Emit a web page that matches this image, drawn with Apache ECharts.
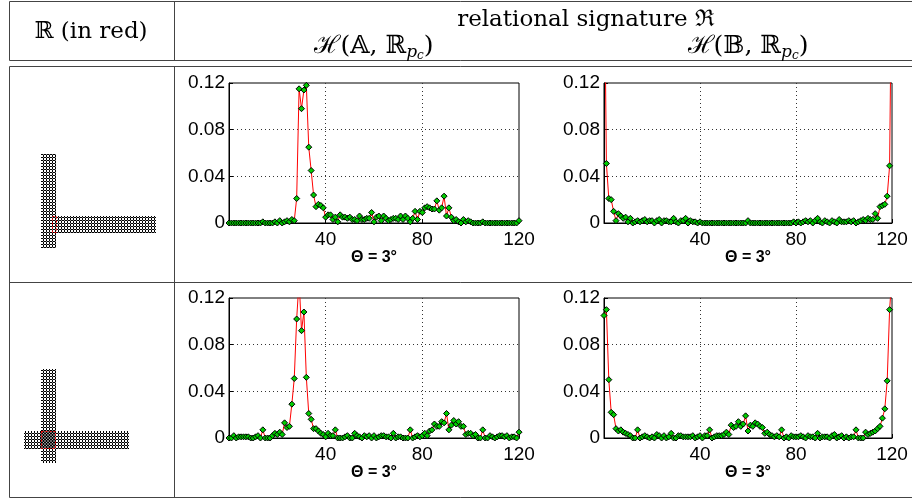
<!DOCTYPE html>
<html><head><meta charset="utf-8">
<script src="https://cdn.jsdelivr.net/npm/echarts@6/dist/echarts.min.js"></script>
<style>html,body{margin:0;padding:0;background:#fff}#c{width:912px;height:499px}</style>
</head><body><div id="c"></div><script>
// ---- data ----
const angles = Array.from({length: 121}, (_, i) => i); // 0..120 bins
const histA1 = [
 0,0,0,0,0,0,0,0,0,0,
 0,0,0,0,0.001,0,0,0,0,0.001,
 0,0.002,0,0.001,0.002,0.001,0.003,0.002,0.021,0.115,
 0.098,0.114,0.118,0.065,0.045,0.024,0.014,0.016,0.015,0.013,
 0.005,0.007,0.007,0.003,0.005,0.001,0.007,0.005,0.005,0.004,
 0.005,0.003,0.003,0.002,0.006,0.003,0.003,0.004,0.004,0.009,
 0.001,0.005,0.006,0.002,0.006,0.004,0.002,0.003,0.004,0.004,
 0.003,0.006,0.003,0.006,0.004,0.001,0.004,0.010,0.003,0.010,
 0.009,0.013,0.014,0.013,0.012,0.012,0.019,0.011,0.013,0.023,
 0.006,0.013,0.005,0.002,0.003,0.001,0,0.003,0.001,0.002,
 0.001,0,0,0,0,0.001,0,0,0,0,
 0,0,0,0,0,0,0,0,0,0,
 0.002];
const histB1 = [
 0.25,0.051,0.021,0.020,0.010,0.002,0.008,0.006,0.004,0.005,
 0.001,0.004,0,0.001,0.002,0.001,0.002,0.003,0.001,0.002,
 0.002,0,0.002,0.003,0,0.002,0.002,0.001,0.001,0.004,
 0.001,0,0.002,0.002,0.004,0,0.002,0.001,0.001,0,
 0.001,0,0,0,0,0,0,0,0,0,
 0,0,0,0,0,0,0,0,0,0,
 0.002,0,0,0,0,0,0,0,0,0,
 0,0,0,0,0,0,0,0,0,0.001,
 0,0.001,0,0.001,0.002,0.001,0.002,0,0.002,0.004,
 0.001,0,0.002,0.001,0,0.002,0.001,0,0.003,0.001,
 0.001,0.001,0.002,0.001,0.002,0,0.001,0.002,0.003,0.002,
 0.004,0.003,0.003,0.008,0.004,0.014,0.015,0.016,0.023,0.049,
 0.25];
const histA2 = [
 0,0,0.002,0,0.001,0.001,0.001,0.001,0.001,0,
 0,0.001,0.002,0,0.007,0,0,0,0.002,0.004,
 0.003,0.005,0.003,0.013,0.009,0.010,0.029,0.051,0.102,0.135,
 0.092,0.108,0.052,0.021,0.016,0.008,0.008,0.006,0.004,0.003,
 0.001,0.004,0.002,0.002,0.007,0,0,0,0.001,0.002,
 0,0,0.004,0.002,0.001,0,0.002,0.001,0.002,0,
 0.002,0,0.001,0.002,0.002,0.001,0.001,0,0.004,0,
 0.001,0.001,0,0,0,0.007,0,0.001,0.002,0.001,
 0.002,0.004,0.002,0.006,0.007,0.012,0.010,0.010,0.014,0.013,
 0.021,0.007,0.011,0.015,0.012,0.014,0.010,0.010,0.003,0.004,
 0.004,0.002,0.003,0,0,0.007,0,0,0.002,0.001,
 0,0.001,0.002,0.002,0.001,0.002,0,0.001,0.001,0,
 0.005];
const histB2 = [
 0.105,0.110,0.050,0.022,0.020,0.008,0.006,0.007,0.005,0.004,
 0.003,0.002,0,0,0.007,0,0.001,0.002,0.001,0,
 0.001,0,0.003,0.002,0,0.002,0,0.001,0.004,0,
 0,0.002,0.002,0.001,0.001,0.001,0.001,0.002,0,0.001,
 0.002,0,0.002,0.002,0.007,0,0.001,0.002,0.002,0.002,
 0.003,0.005,0.003,0.011,0.009,0.010,0.014,0.010,0.012,0.019,
 0.006,0.011,0.010,0.013,0.012,0.010,0.009,0.004,0.005,0.003,
 0.002,0.001,0.002,0.001,0.007,0,0.001,0,0.002,0.001,
 0.001,0.001,0.002,0.001,0,0.002,0.001,0.001,0,0.004,
 0,0.001,0.001,0.001,0,0.002,0.003,0,0.001,0.002,
 0,0.001,0,0.001,0.001,0.007,0,0,0,0.005,
 0.003,0.004,0.005,0.006,0.008,0.010,0.017,0.025,0.049,0.110,
 0.14];
const xTicks = [0, 40, 80, 120];
const xTickLabels = ['', '40', '80', '120'];
const yTicks = [0, 0.04, 0.08, 0.12];
const yTickLabels = ['0', '0.04', '0.08', '0.12'];
const thetaLabel = 'Θ = 3°';
const headerLeft = 'ℝ (in red)';
const headerTop = 'relational signature ℜ';
const panelHeaders = ['𝔸', '𝔹'];

// ---- layout ----
const panels = [histA1, histB1, histA2, histB2];
const grids = [
  {left: 229, top: 83, width: 290, height: 140},
  {left: 604, top: 83, width: 288, height: 140},
  {left: 229, top: 298, width: 290, height: 140},
  {left: 604, top: 298, width: 288, height: 140}
];
const axisFont = 'Liberation Sans';
const serif = 'DejaVu Serif';

function makeTile(dark) {
  const c = document.createElement('canvas');
  c.width = 3; c.height = 3;
  const g = c.getContext('2d');
  g.fillStyle = dark ? '#666' : '#fff'; g.fillRect(0, 0, 3, 3);
  g.fillStyle = '#000';
  [[1,0],[0,1],[2,1],[1,2]].forEach(([x, y]) => g.fillRect(x, y, 1, 1));
  g.fillStyle = dark ? '#bbb' : '#888'; g.fillRect(1, 1, 1, 1);
  return c;
}
const tileLight = makeTile(false), tileDark = makeTile(true);

const measureCtx = document.createElement('canvas').getContext('2d');
function textWidth(t, font) { measureCtx.font = font; return measureCtx.measureText(t).width; }

const lineColor = '#444';
const tableLines = [
  [9.5, 1.5, 912, 1.5], [9.5, 60.5, 912, 60.5], [9.5, 1.5, 9.5, 60.5], [174.5, 1.5, 174.5, 60.5],
  [9.5, 66.5, 912, 66.5], [9.5, 282.5, 912, 282.5], [9.5, 497.5, 912, 497.5],
  [9.5, 66.5, 9.5, 497.5], [174.5, 66.5, 174.5, 497.5]
];
const graphics = tableLines.map(l => ({type: 'line', silent: true,
  shape: {x1: l[0], y1: l[1], x2: l[2], y2: l[3]}, style: {stroke: lineColor, lineWidth: 1}}));

graphics.push({type: 'text', silent: true, x: 91, y: 32,
  style: {text: headerLeft, fontFamily: serif, fontSize: 23, fill: '#000', align: 'center', verticalAlign: 'middle'}});
graphics.push({type: 'text', silent: true, x: 586, y: 20,
  style: {text: headerTop, fontFamily: serif, fontSize: 23, fill: '#000', align: 'center', verticalAlign: 'middle'}});

// H(A, R_{p_c}) labels assembled from measured pieces
[374, 748].forEach((cx, k) => {
  const pieces = [
    {t: 'ℋ(' + panelHeaders[k] + ', ℝ', size: 25, style: 'normal', dy: 0},
    {t: 'p', size: 17, style: 'italic', dy: 7},
    {t: 'c', size: 12, style: 'italic', dy: 10},
    {t: ')', size: 25, style: 'normal', dy: 0}
  ];
  pieces.forEach(p => { p.w = textWidth(p.t, p.style + ' ' + p.size + 'px "' + serif + '"'); });
  const total = pieces.reduce((s, p) => s + p.w, 0);
  let x = cx - total / 2;
  const cy = 46;
  pieces.forEach(p => {
    graphics.push({type: 'text', silent: true, x: x, y: cy + p.dy,
      style: {text: p.t, fontFamily: serif, fontSize: p.size, fontStyle: p.style, fill: '#000', align: 'left', verticalAlign: 'middle'}});
    x += p.w;
  });
});

// shapes (L and T configurations)
function bar(x, y, w, h, dark) {
  return {type: 'rect', silent: true, shape: {x, y, width: w, height: h},
    style: {fill: {image: dark ? tileDark : tileLight, repeat: 'repeat'}}};
}
function redBox(x, y, w, h) {
  return {type: 'rect', silent: true, shape: {x, y, width: w, height: h},
    style: {fill: 'none', stroke: '#ff0000', lineWidth: 1, lineDash: [2, 2]}};
}
graphics.push(bar(41, 154, 15, 94), bar(56, 216, 100, 17), redBox(52.5, 216.5, 4, 16));
graphics.push(bar(41, 369, 15, 94), bar(24, 431, 105, 18), bar(41, 431, 15, 18, true), redBox(41.5, 431.5, 14, 17));

function tickIdx(arr, v) { return arr.findIndex(t => Math.abs(t - v) < 1e-9); }

const option = {
  backgroundColor: '#fff',
  animation: false,
  grid: grids.map(g => Object.assign({show: true, borderColor: '#000', borderWidth: 1, backgroundColor: '#fff', outerBoundsMode: 'none', containLabel: false}, g)),
  xAxis: grids.map((g, i) => ({
    gridIndex: i, type: 'value', min: 0, max: 120, interval: 40,
    axisLine: {show: true, onZero: false, lineStyle: {color: '#000', width: 1}},
    axisTick: {show: true, inside: true, length: 4, lineStyle: {color: '#000'}},
    axisLabel: {color: '#000', fontFamily: axisFont, fontSize: 19, margin: 7,
      formatter: v => { const k = tickIdx(xTicks, v); return k >= 0 ? xTickLabels[k] : ''; }},
    splitLine: {show: true, showMinLine: false, showMaxLine: false, lineStyle: {color: '#333', type: [1, 3], width: 1}},
    name: thetaLabel, nameLocation: 'middle', nameGap: 26,
    nameTextStyle: {fontFamily: axisFont, fontWeight: 'bold', fontSize: 16, color: '#000'}
  })),
  yAxis: grids.map((g, i) => ({
    gridIndex: i, type: 'value', min: 0, max: 0.12, interval: 0.04,
    axisLine: {show: true, lineStyle: {color: '#000', width: 1}},
    axisTick: {show: true, inside: true, length: 4, lineStyle: {color: '#000'}},
    axisLabel: {color: '#000', fontFamily: axisFont, fontSize: 19, margin: 4,
      formatter: v => { const k = tickIdx(yTicks, v); return k >= 0 ? yTickLabels[k] : ''; }},
    splitLine: {show: true, showMinLine: false, showMaxLine: false, lineStyle: {color: '#333', type: [1, 3], width: 1}}
  })),
  series: panels.map((vals, i) => ({
    type: 'line', xAxisIndex: i, yAxisIndex: i, clip: true, silent: true,
    data: angles.map((a, j) => [a, vals[j]]),
    symbol: 'diamond', symbolSize: 6, showSymbol: true, showAllSymbol: true,
    lineStyle: {color: '#ff0000', width: 1},
    itemStyle: {color: '#00cc00', borderColor: '#000', borderWidth: 1},
    emphasis: {disabled: true}
  })),
  graphic: {elements: graphics}
};
const chart = echarts.init(document.getElementById('c'));
chart.setOption(option);
</script></body></html>
